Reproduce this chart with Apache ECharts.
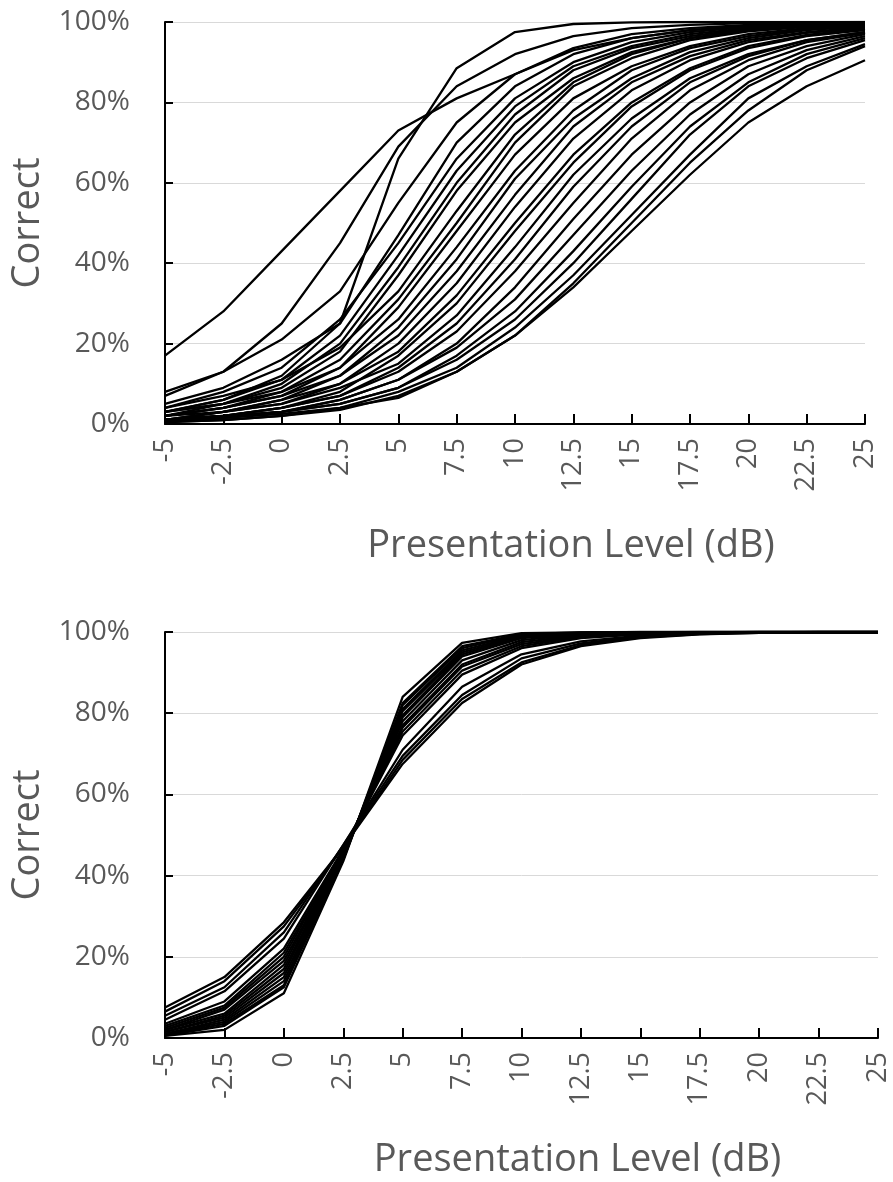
<!DOCTYPE html>
<html>
<head>
<meta charset="utf-8">
<script src="https://cdn.jsdelivr.net/npm/echarts@6/dist/echarts.min.js"></script>
<style>
  html, body { margin: 0; padding: 0; background: #fff; }
  #chart-container { width: 893px; height: 1182px; }
</style>
</head>
<body>
<div id="chart-container"></div>
<script>
// presentation levels (dB)
const levels = ["-5", "-2.5", "0", "2.5", "5", "7.5", "10", "12.5", "15", "17.5", "20", "22.5", "25"];
const yTicks = [0, 20, 40, 60, 80, 100];

// upper panel: one psychometric function per listener (% correct)
const upperCurves = [
  [17, 28, 43, 58, 73, 81, 87, 93, 96, 98, 99, 99.5, 99.7],
  [8, 13, 25, 45, 69, 84, 92, 96.5, 98.5, 99.3, 99.7, 99.9, 100],
  [5, 9, 16, 25, 66, 88.5, 97.5, 99.5, 99.9, 100, 100, 100, 100],
  [7, 13, 21, 33, 55, 75, 87, 93.5, 97, 98.5, 99.3, 99.7, 99.9],
  [3, 6, 12, 25, 47, 70, 84, 92, 96, 98, 99, 99.5, 99.8],
  [4, 8, 14, 26, 45, 66, 81, 90, 95, 97.5, 98.8, 99.4, 99.7],
  [3, 6, 11, 22, 42, 63, 79, 89, 94, 97, 98.5, 99.3, 99.7],
  [3, 5, 10, 20, 39, 60, 77, 88, 93.5, 96.5, 98.3, 99.2, 99.6],
  [2, 5, 9, 18, 37, 58, 75, 86, 92.5, 96, 98, 99, 99.5],
  [4, 7, 11, 19, 33, 53, 72, 85, 92, 96, 98, 99, 99.5],
  [2, 4, 8, 16, 31, 50, 70, 84, 91, 95.5, 97.7, 98.8, 99.4],
  [2, 4, 7, 14, 29, 48, 67, 81, 89, 94, 97, 98.5, 99.2],
  [3, 5, 8, 14, 26, 44, 63, 78, 88, 93.5, 96.5, 98.2, 99],
  [1, 3, 6, 12, 24, 41, 61, 76, 86, 92.5, 96, 98, 99],
  [2, 4, 7, 12, 22, 38, 57, 74, 85, 91.5, 95.5, 97.5, 98.7],
  [1, 3, 5, 10, 20, 35, 54, 71, 83, 90.5, 95, 97.3, 98.5],
  [2, 3, 6, 10, 18, 32, 50, 67, 80, 88.5, 94, 96.8, 98.3],
  [1, 2, 4, 8, 17, 30, 48, 65, 79, 88, 93.5, 96.5, 98],
  [1, 3, 5, 9, 15, 27, 44, 62, 76, 86, 92, 95.5, 97.5],
  [1, 2, 4, 7, 14, 25, 41, 59, 74, 85, 91.5, 95.5, 97.5],
  [1, 2, 4, 7, 13, 23, 38, 55, 71, 83, 90.5, 95, 97.3],
  [1, 2, 3, 6, 11, 20, 34, 51, 67, 80, 89, 94, 97],
  [0.5, 1.5, 3, 6, 11, 19, 31, 47, 63, 77, 87, 93, 96.5],
  [0.5, 1.5, 3, 5, 9, 17, 28, 43, 59, 74, 85, 92, 96],
  [1, 2, 3, 5, 9, 16, 26, 40, 56, 72, 84, 91, 95.5],
  [0.5, 1, 2, 4, 8, 14, 24, 37, 52, 67, 81, 89, 94.5],
  [0.5, 1, 2, 3.5, 7, 13, 22, 35, 50, 65, 78, 88, 94],
  [1, 1.5, 2.5, 4, 6.5, 13, 22, 34, 48, 62, 75, 84, 90.5]
];

// lower panel
const lowerCurves = [
  [7.5, 15, 28.5, 47, 67.5, 82.5, 92, 96.5, 98.5, 99.4, 99.8, 100, 100],
  [6.5, 14, 27.5, 47, 68.5, 83.5, 92.5, 96.8, 98.7, 99.5, 99.8, 100, 100],
  [5.5, 12.5, 26, 47.5, 69.5, 84.5, 93.5, 97.2, 98.9, 99.6, 99.9, 100, 100],
  [4.5, 11.5, 24.5, 47.5, 71, 86.5, 94.5, 97.7, 99.1, 99.7, 99.9, 100, 100],
  [3.5, 9, 22, 46.5, 74.5, 89.5, 96, 98.5, 99.4, 99.8, 100, 100, 100],
  [3, 8, 21, 46, 75.5, 90.5, 96.5, 98.8, 99.5, 99.8, 100, 100, 100],
  [2.5, 7.5, 20, 46, 76.5, 91.5, 97, 99, 99.6, 99.9, 100, 100, 100],
  [2, 7, 19, 45.5, 77, 92, 97.5, 99.2, 99.7, 99.9, 100, 100, 100],
  [2, 6, 18, 45.5, 78, 93, 98, 99.4, 99.8, 99.9, 100, 100, 100],
  [1.5, 5.5, 17, 45, 79, 94, 98.5, 99.5, 99.8, 100, 100, 100, 100],
  [1.5, 5, 16, 45, 79.5, 94.5, 98.8, 99.6, 99.9, 100, 100, 100, 100],
  [1, 4.5, 15, 44.5, 80.5, 95, 99, 99.7, 99.9, 100, 100, 100, 100],
  [1, 4, 14, 44.5, 81, 95.5, 99.2, 99.8, 100, 100, 100, 100, 100],
  [0.8, 3.5, 13, 44, 82, 96, 99.4, 99.8, 100, 100, 100, 100, 100],
  [0.6, 3, 12.5, 44, 82.5, 96.5, 99.5, 99.9, 100, 100, 100, 100, 100],
  [0.5, 2, 11, 43.5, 84, 97.3, 99.7, 99.9, 100, 100, 100, 100, 100]
];

var dom = document.getElementById("chart-container");
var myChart = echarts.init(dom, null, { renderer: "canvas" });

const labelColor = "#595959";
const fontFamily = "'Open Sans', sans-serif";

const makeX = (idx) => ({
  type: "category",
  gridIndex: idx,
  data: levels,
  boundaryGap: false,
  axisLine: { lineStyle: { color: "#000", width: 2 } },
  axisTick: { inside: true, length: 10, lineStyle: { color: "#000", width: 2 } },
  axisLabel: { rotate: 90, margin: 14, color: labelColor, fontSize: 27, fontFamily },
  name: "Presentation Level (dB)",
  nameLocation: "middle",
  nameGap: 103,
  nameTextStyle: { color: labelColor, fontSize: 38, fontFamily, padding: [0, 0, 0, 112] },
  splitLine: { show: false }
});

const makeY = (idx) => ({
  type: "value",
  gridIndex: idx,
  min: yTicks[0],
  max: yTicks[yTicks.length - 1],
  interval: 20,
  axisLine: { show: true, lineStyle: { color: "#000", width: 2 } },
  axisTick: { show: true, inside: true, length: 8, lineStyle: { color: "#000", width: 2 } },
  axisLabel: { formatter: "{value}%", margin: 35, color: labelColor, fontSize: 28, fontFamily },
  splitLine: { lineStyle: { color: "#d9d9d9", width: 1 } },
  name: "Correct",
  nameLocation: "middle",
  nameGap: 118,
  nameTextStyle: { color: labelColor, fontSize: 38, fontFamily }
});

const toSeries = (curves, idx) => curves.map((vals, i) => ({
  name: (idx === 0 ? "upper " : "lower ") + (i + 1),
  type: "line",
  xAxisIndex: idx,
  yAxisIndex: idx,
  data: vals,
  showSymbol: false,
  symbol: "none",
  lineStyle: { color: "#000", width: 2.3 },
  animation: false
}));

var option = {
  backgroundColor: "#fff",
  animation: false,
  grid: [
    { left: 165, right: 28, top: 22, height: 402 },
    { left: 165, right: 15, top: 632, height: 406 }
  ],
  xAxis: [makeX(0), makeX(1)],
  yAxis: [makeY(0), makeY(1)],
  series: toSeries(upperCurves, 0).concat(toSeries(lowerCurves, 1))
};

myChart.setOption(option);
window.addEventListener("resize", myChart.resize);
</script>
</body>
</html>
